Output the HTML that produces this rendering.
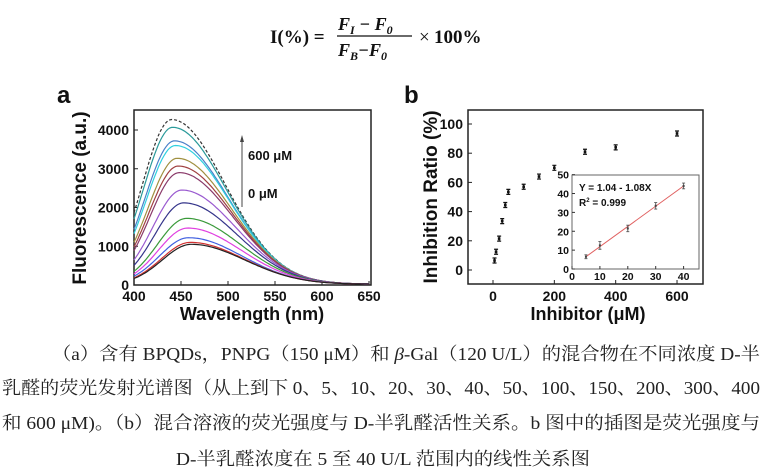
<!DOCTYPE html>
<html><head><meta charset="utf-8"><style>
body{margin:0;background:#fff;}
svg{display:block;}
.t{font-family:"Liberation Sans",Arial,sans-serif;font-weight:bold;fill:#111;}
.c{font-family:"Liberation Serif","Noto Serif CJK SC","Noto Sans CJK SC",serif;font-size:18px;fill:#222;}
</style></head><body>
<svg id="s" width="765" height="471" viewBox="0 0 765 471" xmlns="http://www.w3.org/2000/svg">
<g font-family="Liberation Serif,serif" font-weight="bold" fill="#111">
<text x="270" y="43" font-size="19">I(%) =</text>
<text x="338" y="30" font-size="18" font-style="italic">F<tspan font-size="12" dy="4">I</tspan><tspan dy="-4"> − F</tspan><tspan font-size="12" dy="4">0</tspan></text>
<line x1="337" y1="36" x2="412" y2="36" stroke="#111" stroke-width="1.3"/>
<text x="338" y="56" font-size="18" font-style="italic">F<tspan font-size="12" dy="4">B</tspan><tspan dy="-4">−F</tspan><tspan font-size="12" dy="4">0</tspan></text>
<text x="419" y="43" font-size="19" font-weight="normal">×</text><text x="434" y="43" font-size="19">100%</text>
</g>
<text class="t" x="57" y="103" font-size="24">a</text>
<rect x="134" y="110" width="237" height="175" fill="none" stroke="#222" stroke-width="1.5"/>
<g id="ga"></g>
<text class="t" font-size="19" transform="translate(86,198) rotate(-90)" text-anchor="middle">Fluorescence (a.u.)</text>
<text class="t" x="252" y="320" font-size="18" text-anchor="middle">Wavelength (nm)</text>
<line x1="242" y1="207" x2="242" y2="140" stroke="#444" stroke-width="1"/>
<polygon points="242,135 240,142 244,142" fill="#444"/>
<text class="t" x="248" y="160" font-size="13">600 μM</text>
<text class="t" x="248" y="198" font-size="13">0 μM</text>
<text class="t" x="404" y="103" font-size="24">b</text>
<rect x="468" y="110" width="235" height="174" fill="none" stroke="#222" stroke-width="1.5"/>
<g id="gb"></g>
<text class="t" font-size="19" transform="translate(437,197) rotate(-90)" text-anchor="middle">Inhibition Ratio (%)</text>
<text class="t" x="588" y="320" font-size="18" text-anchor="middle">Inhibitor (μM)</text>
<rect x="572" y="175" width="127" height="94" fill="#fff" stroke="#666" stroke-width="1"/>
<g id="gi"></g>
<text class="t" x="579" y="191" font-size="10">Y = 1.04 - 1.08X</text>
<text class="t" x="579" y="206" font-size="10">R<tspan font-size="6" dy="-4">2</tspan><tspan dy="4"> = 0.999</tspan></text>
<text class="c" x="52" y="360" textLength="708" lengthAdjust="spacingAndGlyphs">（a）含有 BPQDs，PNPG（150 μM）和 <tspan font-style="italic">β</tspan>-Gal（120 U/L）的混合物在不同浓度 D-半</text>
<text class="c" x="2" y="394" textLength="758" lengthAdjust="spacingAndGlyphs">乳醛的荧光发射光谱图（从上到下 0、5、10、20、30、40、50、100、150、200、300、400</text>
<text class="c" x="2" y="429" textLength="758" lengthAdjust="spacingAndGlyphs">和 600 μM)。（b）混合溶液的荧光强度与 D-半乳醛活性关系。b 图中的插图是荧光强度与</text>
<text class="c" x="176" y="465" textLength="414" lengthAdjust="spacingAndGlyphs">D-半乳醛浓度在 5 至 40 U/L 范围内的线性关系图</text>
</svg>
<script>
const NS="http://www.w3.org/2000/svg";
function el(p,t,a,txt){const e=document.createElementNS(NS,t);for(const k in a)e.setAttribute(k,a[k]);if(txt!==undefined)e.textContent=txt;document.getElementById(p).appendChild(e);return e;}
const X=w=>134+(w-400)*0.94, Y=v=>285-v*0.03875;
for(let w=400;w<=650;w+=50){el("ga","line",{x1:X(w),y1:285,x2:X(w),y2:281,stroke:"#222"});el("ga","text",{x:X(w),y:301,"font-size":14,"text-anchor":"middle",class:"t"},w);}
for(let v=0;v<=4000;v+=1000){el("ga","line",{x1:134,y1:Y(v),x2:138,y2:Y(v),stroke:"#222"});el("ga","text",{x:129,y:Y(v)+5,"font-size":14,"text-anchor":"end",class:"t"},v);}
const cur=[[4250,440,"#333",1],[4050,441,"#2a9a9a"],[3700,443,"#4a80c8"],[3580,444,"#30d0e0"],[3250,446,"#a09040"],[3050,447,"#a04040"],[2880,448,"#8a3a6a"],[2430,451,"#9a5ad0"],[2100,453,"#34348a"],[1700,456,"#3a9a3a"],[1450,457,"#e040e0"],[1200,458,"#4060e0"],[1080,460,"#d03030"],[1030,461,"#222"]];
cur.forEach(c=>{let d="";for(let w=400;w<=650;w+=2){const s=w<c[1]?31:57;const v=c[0]*Math.exp(-Math.pow(w-c[1],2)/(2*s*s))+20;d+=(w==400?"M":"L")+X(w).toFixed(1)+","+Y(v).toFixed(1);}
el("ga","path",{d:d,fill:"none",stroke:c[2],"stroke-width":1.2,"stroke-dasharray":c[3]?"3,2":"none"});});
const BX=x=>493+x*0.3067, BY=y=>270-y*1.46;
[0,200,400,600].forEach(x=>{el("gb","line",{x1:BX(x),y1:284,x2:BX(x),y2:280,stroke:"#222"});el("gb","text",{x:BX(x),y:301,"font-size":14,"text-anchor":"middle",class:"t"},x);});
[0,20,40,60,80,100].forEach(y=>{el("gb","line",{x1:468,y1:BY(y),x2:472,y2:BY(y),stroke:"#222"});el("gb","text",{x:463,y:BY(y)+5,"font-size":14,"text-anchor":"end",class:"t"},y);});
const pts=[[5,6.5],[10,12.5],[20,21.5],[30,33.5],[40,44.5],[50,53.5],[100,57],[150,64],[200,70],[300,81],[400,84],[600,93.5]];
pts.forEach(p=>{const x=BX(p[0]),y=BY(p[1]);el("gb","path",{d:`M${x-2},${y-2.5}H${x+2}M${x-2},${y+2.5}H${x+2}M${x},${y-2.5}V${y+2.5}`,stroke:"#111","stroke-width":1.2});el("gb","rect",{x:x-1.3,y:y-1.3,width:2.6,height:2.6,fill:"#111"});});
const IX=x=>572+x*2.79, IY=y=>269-y*1.887;
[0,10,20,30,40].forEach(x=>{el("gi","line",{x1:IX(x),y1:269,x2:IX(x),y2:266,stroke:"#333"});el("gi","text",{x:IX(x),y:280,"font-size":10.5,"text-anchor":"middle",class:"t"},x);});
[0,10,20,30,40,50].forEach(y=>{el("gi","line",{x1:572,y1:IY(y),x2:575,y2:IY(y),stroke:"#333"});el("gi","text",{x:569,y:IY(y)+4,"font-size":10.5,"text-anchor":"end",class:"t"},y);});
el("gi","line",{x1:IX(5),y1:IY(6.5),x2:IX(40),y2:IY(44),stroke:"#e06060","stroke-width":1});
[[5,6.5,0.5],[10,12.5,1.5],[20,21.5,1.2],[30,33.5,1.2],[40,44,1]].forEach(p=>{const x=IX(p[0]),y=IY(p[1]),e=p[2]*1.887+1;el("gi","path",{d:`M${x-1.5},${y-e}H${x+1.5}M${x-1.5},${y+e}H${x+1.5}M${x},${y-e}V${y+e}`,stroke:"#555","stroke-width":0.9});el("gi","rect",{x:x-1,y:y-1,width:2,height:2,fill:"#444"});});
</script>
</body></html>
